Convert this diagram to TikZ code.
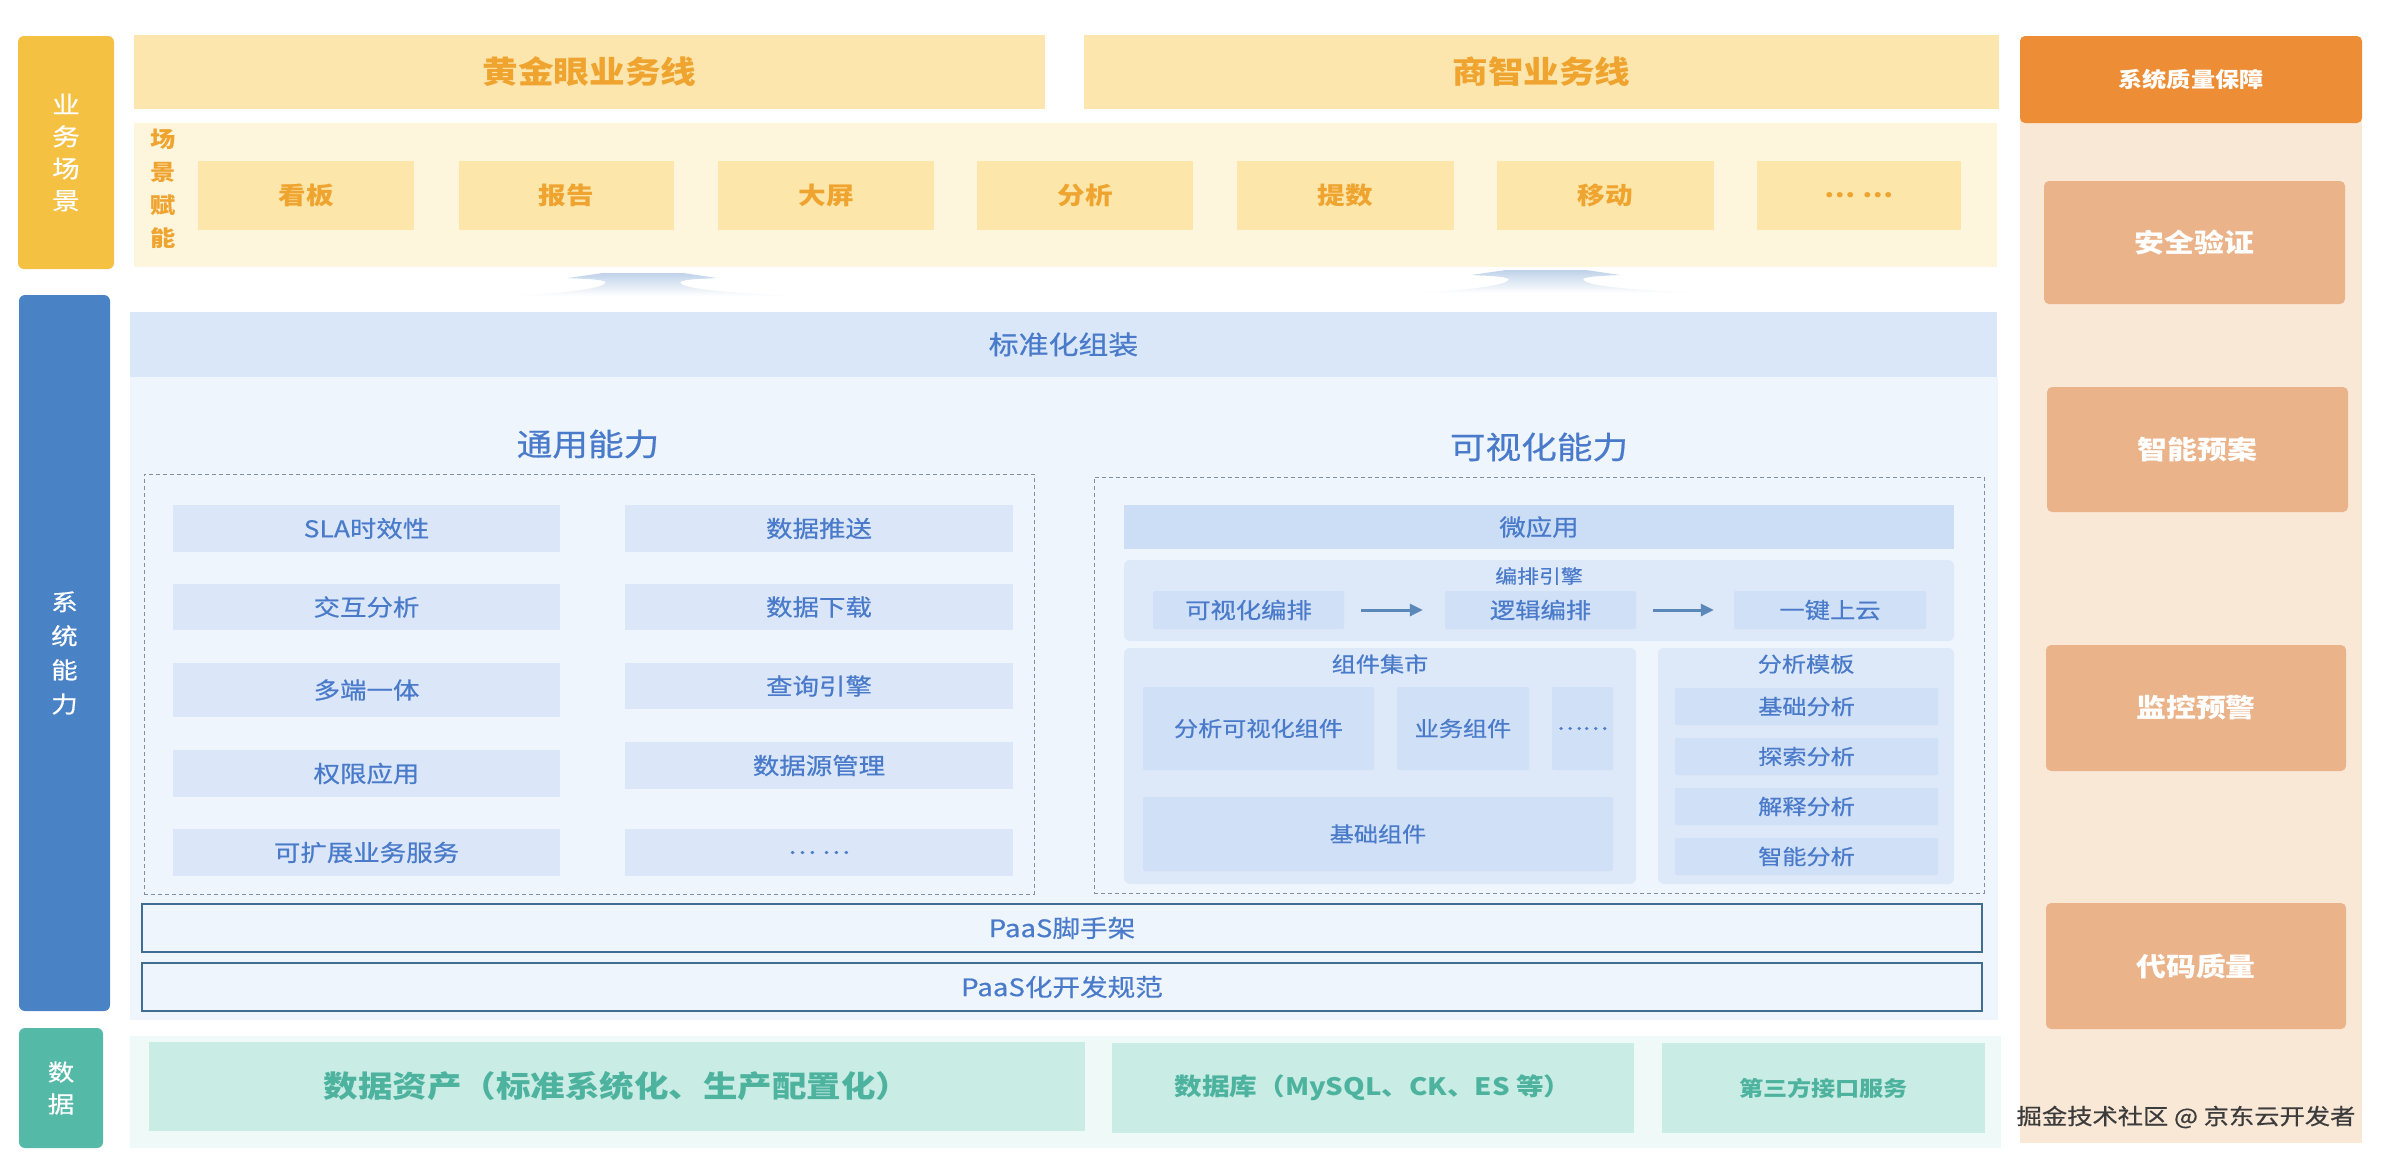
\documentclass[tikz,border=0pt]{standalone}
\usepackage{fontspec}
\setmainfont{Noto Sans CJK SC}[FakeStretch=1.15]
\newfontfamily\medfam{Noto Sans CJK SC}[FakeStretch=1.15, FakeBold=0.6]
\usetikzlibrary{arrows.meta}
\definecolor{cGold}{HTML}{F4C143}
\definecolor{cYbar}{HTML}{FCE6AD}
\definecolor{cScBand}{HTML}{FEF5DD}
\definecolor{cScBox}{HTML}{FCE6AA}
\definecolor{cOrangeT}{HTML}{F0A430}
\definecolor{cTitleOr}{HTML}{ED8E36}
\definecolor{cPeach}{HTML}{FAE8D7}
\definecolor{cQbox}{HTML}{EAB38A}
\definecolor{cBlue}{HTML}{4A82C6}
\definecolor{cStd}{HTML}{D9E7F8}
\definecolor{cSysBg}{HTML}{EEF5FD}
\definecolor{cGbox}{HTML}{DBE7F8}
\definecolor{cBlueT}{HTML}{4A7BCB}
\definecolor{cMicro}{HTML}{CCDEF6}
\definecolor{cCont}{HTML}{DDE9F8}
\definecolor{cIbox}{HTML}{D0E0F6}
\definecolor{cDash}{HTML}{8090A0}
\definecolor{cPaasLine}{HTML}{3F6E90}
\definecolor{cTeal}{HTML}{55B9A8}
\definecolor{cDataBg}{HTML}{EFF9F7}
\definecolor{cDbox}{HTML}{C9ECE4}
\definecolor{cTealT}{HTML}{4DB39F}
\definecolor{cArrow}{HTML}{5B87B9}
\definecolor{cMound}{HTML}{BFD2E9}
\definecolor{cWm}{HTML}{3C3C3C}
\newcommand{\fsz}[2]{\fontsize{#1}{#2}\selectfont}
\newcommand{\bx}[7]{\node[inner sep=0pt, align=center, minimum width={#4pt-#2pt}, minimum height={#5pt-#3pt}, #6] (#1) at ({(#2+#4)/2},{(#3+#5)/2}) {#7};}
\newcommand{\moundpath}{(517,296) .. controls (575,292) and (605,288) .. (606,282)
  .. controls (600,279) and (585,279) .. (568,278) -- (603,273) -- (683,273) -- (717,278)
  .. controls (700,279) and (685,279) .. (680,282)
  .. controls (681,288) and (711,292) .. (797,296) -- cycle}
\tikzset{
 sidelabel/.style={text=white, rounded corners=6pt, font=\fsz{23}{33}\medfam},
 ybar/.style={fill=cYbar, text=cOrangeT, font=\fsz{31}{36}\bfseries},
 scbox/.style={fill=cScBox, text=cOrangeT, font=\fsz{24}{28}\bfseries},
 qbox/.style={fill=cQbox, rounded corners=5pt, text=white, font=\fsz{26}{30}\bfseries},
 gbox/.style={fill=cGbox, text=cBlueT, font=\fsz{23}{27}\medfam},
 cont/.style={fill=cCont, rounded corners=6pt},
 ibox/.style={fill=cIbox, text=cBlueT, font=\fsz{21}{25}\medfam, rounded corners=2pt},
 dashbox/.style={draw=cDash, dash pattern=on 4pt off 3pt, line width=1pt},
 paasbox/.style={draw=cPaasLine, line width=1.8pt, fill=cSysBg, text=cBlueT, font=\fsz{24}{28}\medfam},
 dbox/.style={fill=cDbox, text=cTealT, font=\fsz{24}{28}\bfseries},
 ttl/.style={text=cBlueT, font=\fsz{31}{36}\medfam},
 sublbl/.style={text=cBlueT, font=\fsz{20}{24}\medfam},
 flow/.style={draw=cArrow, line width=3pt, -{Triangle[length=13pt,width=12pt]}},
}
\begin{document}
\begin{tikzpicture}[x=1pt,y=-1pt]
\useasboundingbox (0,0) rectangle (2384,1160);
\fill[white] (0,0) rectangle (2384,1160);

% side labels
\bx{lblbiz}{18}{36}{114}{269}{sidelabel, fill=cGold, font=\fsz{24}{32}\medfam}{业\\务\\场\\景}
\bx{lblsys}{19}{295}{110}{1011}{sidelabel, fill=cBlue, font=\fsz{23}{34}\medfam}{系\\统\\能\\力}
\bx{lbldata}{19}{1028}{103}{1148}{sidelabel, fill=cTeal, font=\fsz{23}{32}\medfam}{数\\据}

% business lines
\bx{golden}{134}{35}{1045}{109}{ybar}{黄金眼业务线}
\bx{shangzhi}{1084}{35}{1999}{109}{ybar}{商智业务线}

% scene band
\bx{sceneband}{134}{123}{1997}{267}{fill=cScBand}{}
\node[text=cOrangeT, align=center, font=\fsz{22}{33}\bfseries] (scenelbl) at (163,189) {场\\景\\赋\\能};
\foreach \a/\b/\t [count=\i] in {198/414/看板, 459/674/报告, 718/934/大屏, 977/1193/分析, 1237/1454/提数, 1497/1714/移动, 1757/1961/… …}{
  \bx{scene\i}{\a}{161}{\b}{230}{scbox}{\t}
}

% mounds
\shade[top color=cMound, bottom color=white] \moundpath;
\begin{scope}[shift={(903,-3)}]
\shade[top color=cMound, bottom color=white] \moundpath;
\end{scope}

% quality column
\bx{qcol}{2020}{110}{2362}{1143}{fill=cPeach}{}
\bx{qtitle}{2020}{36}{2362}{123}{fill=cTitleOr, rounded corners=5pt, text=white, font=\fsz{21}{25}\bfseries}{系统质量保障}
\bx{q1}{2044}{181}{2345}{304}{qbox}{安全验证}
\bx{q2}{2047}{387}{2348}{512}{qbox}{智能预案}
\bx{q3}{2046}{645}{2346}{771}{qbox}{监控预警}
\bx{q4}{2046}{903}{2346}{1029}{qbox}{代码质量}
\node[text=cWm, font=\fsz{22}{26}\medfam, inner sep=0pt] (wm) at (2186,1117) {掘金技术社区 @ 京东云开发者};

% system area
\bx{sysbg}{130}{377}{1998}{1020}{fill=cSysBg}{}
\bx{std}{130}{312}{1997}{377}{fill=cStd, text=cBlueT, font=\fsz{26}{30}\medfam}{标准化组装}
\node[ttl] (tygl) at (588,444) {通用能力};
\node[ttl] (kshnl) at (1539,447) {可视化能力};
\bx{leftdash}{144}{474}{1034}{894}{dashbox}{}
\bx{rightdash}{1094}{477}{1984}{893}{dashbox}{}

% general abilities
\bx{g1}{173}{505}{560}{552}{gbox}{SLA时效性}
\bx{g2}{173}{584}{560}{630}{gbox}{交互分析}
\bx{g3}{173}{663}{560}{717}{gbox}{多端一体}
\bx{g4}{173}{750}{560}{797}{gbox}{权限应用}
\bx{g5}{173}{829}{560}{876}{gbox}{可扩展业务服务}
\bx{g6}{625}{505}{1013}{552}{gbox}{数据推送}
\bx{g7}{625}{584}{1013}{630}{gbox}{数据下载}
\bx{g8}{625}{663}{1013}{709}{gbox}{查询引擎}
\bx{g9}{625}{742}{1013}{789}{gbox}{数据源管理}
\bx{g10}{625}{829}{1013}{876}{gbox}{… …}

% visual abilities
\bx{micro}{1124}{505}{1954}{549}{fill=cMicro, text=cBlueT, font=\fsz{23}{27}\medfam}{微应用}
\bx{engine}{1124}{560}{1954}{641}{cont}{}
\node[sublbl, font=\fsz{19}{23}\medfam] (enginelbl) at (1539,576) {编排引擎};
\bx{vis}{1153}{591}{1344}{629}{ibox, font=\fsz{22}{26}\medfam}{可视化编排}
\bx{logic}{1445}{591}{1636}{629}{ibox, font=\fsz{22}{26}\medfam}{逻辑编排}
\bx{cloud}{1734}{591}{1926}{629}{ibox, font=\fsz{22}{26}\medfam}{一键上云}
\draw[flow, shorten <=17pt, shorten >=22pt] (vis) -- (logic);
\draw[flow, shorten <=17pt, shorten >=20pt] (logic) -- (cloud);

\bx{market}{1124}{648}{1636}{884}{cont}{}
\node[sublbl, font=\fsz{21}{25}\medfam] (marketlbl) at (1380,664) {组件集市};
\bx{c1}{1143}{687}{1374}{770}{ibox}{分析可视化组件}
\bx{c2}{1397}{687}{1529}{770}{ibox}{业务组件}
\bx{c3}{1552}{687}{1613}{770}{ibox}{……}
\bx{c4}{1143}{797}{1613}{871}{ibox}{基础组件}

\bx{tmpl}{1658}{648}{1954}{884}{cont}{}
\node[sublbl, font=\fsz{21}{25}\medfam] (tmpllbl) at (1806,664) {分析模板};
\bx{t1}{1675}{688}{1938}{725}{ibox}{基础分析}
\bx{t2}{1675}{738}{1938}{775}{ibox}{探索分析}
\bx{t3}{1675}{788}{1938}{825}{ibox}{解释分析}
\bx{t4}{1675}{838}{1938}{875}{ibox}{智能分析}

% PaaS
\bx{paas1}{142}{904}{1982}{952}{paasbox}{PaaS脚手架}
\bx{paas2}{142}{963}{1982}{1011}{paasbox}{PaaS化开发规范}

% data
\bx{databand}{130}{1036}{2001}{1148}{fill=cDataBg}{}
\bx{d1}{149}{1042}{1085}{1131}{dbox, font=\fsz{30}{34}\bfseries}{数据资产（标准系统化、生产配置化）}
\bx{d2}{1112}{1043}{1634}{1133}{dbox}{数据库（MySQL、CK、ES 等）}
\bx{d3}{1662}{1043}{1985}{1133}{dbox, font=\fsz{21}{25}\bfseries}{第三方接口服务}
\end{tikzpicture}
\end{document}
